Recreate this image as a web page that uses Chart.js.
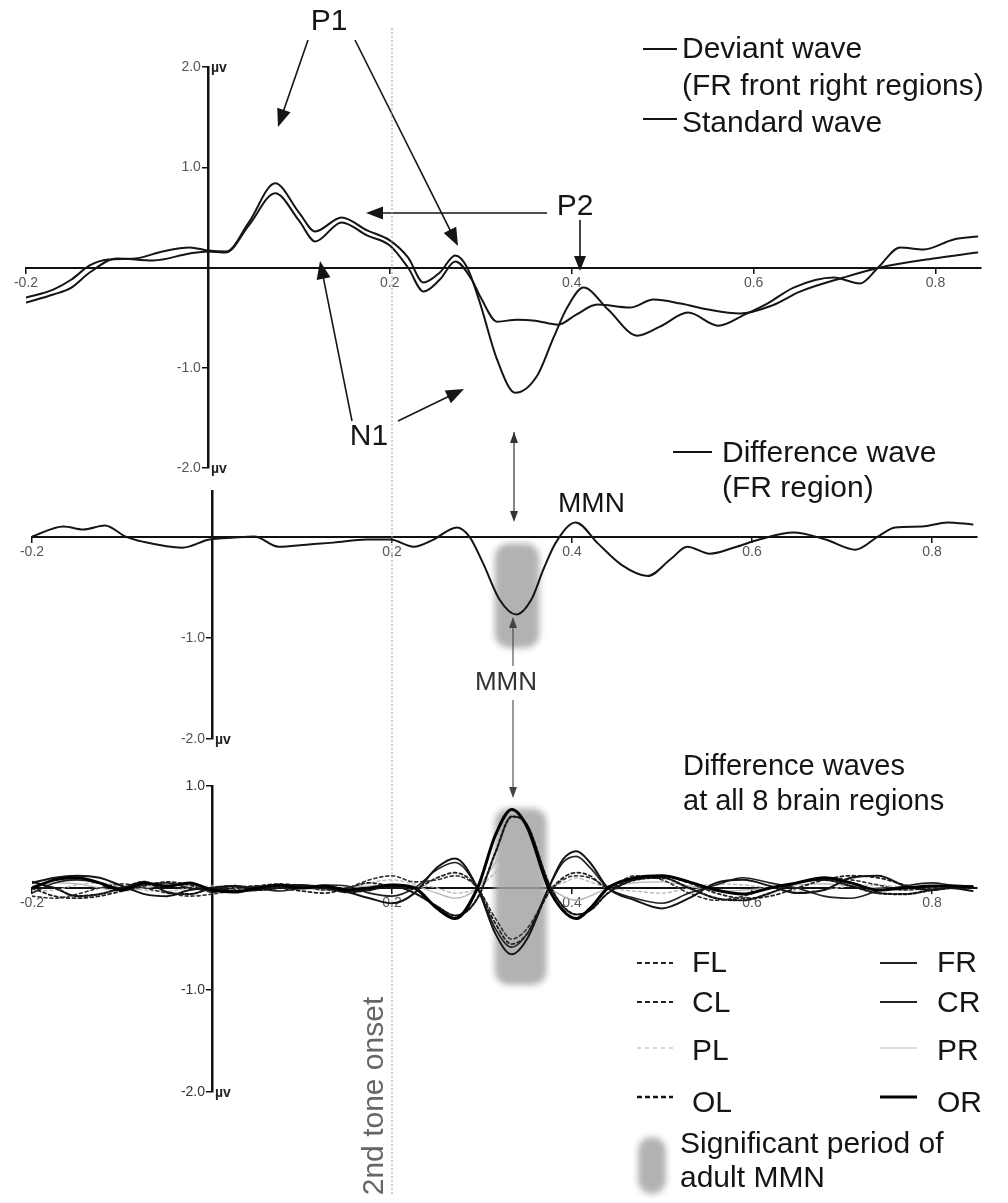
<!DOCTYPE html>
<html>
<head>
<meta charset="utf-8">
<script src="https://cdn.jsdelivr.net/npm/chart.js@4.4.1/dist/chart.umd.min.js"></script>
<style>
  html, body { margin: 0; padding: 0; background: #fff; }
  #wrap { position: relative; width: 1008px; height: 1203px; overflow: hidden; }
  #wrap canvas { position: absolute; left: 0; top: 0; }
</style>
</head>
<body>
<div id="wrap">
  <canvas id="waves" width="1008" height="1203"></canvas>
  <canvas id="diff" width="1008" height="1203"></canvas>
  <canvas id="regions" width="1008" height="1203"></canvas>
</div>
<script>
// ---- data (time in s, amplitude in µV) ----
const xTicks = [-0.2, 0.2, 0.4, 0.6, 0.8];
const yTicksTop = [2, 1, -1, -2];
const yTicksMid = [-1, -2];
const yTicksBot = [1, -1, -2];
const onsetTime = 0.2;
const mmnWindow = [0.312, 0.366];

const timeDev = [-0.2, -0.17, -0.15, -0.13, -0.11, -0.08, -0.05, -0.02, 0, 0.02,
  0.045, 0.074, 0.1, 0.118, 0.147, 0.175, 0.2, 0.22, 0.237, 0.255,
  0.272, 0.285, 0.299, 0.318, 0.338, 0.362, 0.38, 0.395, 0.413, 0.44,
  0.472, 0.497, 0.528, 0.561, 0.59, 0.615, 0.644, 0.688, 0.717, 0.737,
  0.761, 0.787, 0.82, 0.846];
const deviantWave = [-0.3, -0.22, -0.12, 0.02, 0.08, 0.09, 0.16, 0.2, 0.17, 0.16,
  0.45, 0.84, 0.55, 0.36, 0.5, 0.37, 0.27, 0.1, -0.15, -0.05,
  0.12, 0.0, -0.35, -0.92, -1.25, -1.08, -0.7, -0.4, -0.2, -0.42,
  -0.68, -0.59, -0.45, -0.58, -0.47, -0.36, -0.2, -0.1, -0.16, 0.0,
  0.2, 0.18, 0.28, 0.31];

const timeStd = [-0.2, -0.17, -0.15, -0.13, -0.1, -0.06, -0.02, 0, 0.02, 0.045,
  0.074, 0.1, 0.118, 0.147, 0.175, 0.2, 0.22, 0.237, 0.255, 0.272,
  0.29, 0.3, 0.318, 0.34, 0.36, 0.385, 0.405, 0.428, 0.464, 0.49,
  0.52, 0.55, 0.585, 0.62, 0.651, 0.699, 0.739, 0.798, 0.846];
const standardWave = [-0.35, -0.27, -0.2, -0.05, 0.09, 0.07, 0.14, 0.16, 0.15, 0.42,
  0.74, 0.47, 0.26, 0.45, 0.32, 0.22, 0.0, -0.24, -0.12, 0.06,
  -0.12, -0.3, -0.54, -0.52, -0.53, -0.57, -0.47, -0.37, -0.4, -0.32,
  -0.36, -0.42, -0.46, -0.38, -0.24, -0.1, 0.0, 0.09, 0.15];

const timeDiff = [-0.2, -0.165, -0.143, -0.119, -0.096, -0.077, -0.033, -0.003, 0.025, 0.047,
  0.074, 0.105, 0.135, 0.172, 0.198, 0.224, 0.246, 0.272, 0.286, 0.301,
  0.32, 0.338, 0.355, 0.368, 0.382, 0.404, 0.429, 0.455, 0.484, 0.51,
  0.528, 0.553, 0.583, 0.608, 0.646, 0.682, 0.715, 0.74, 0.759, 0.789,
  0.817, 0.845];
const diffWaveFR = [0, 0.1, 0.07, 0.11, 0, -0.05, -0.11, -0.03, -0.01, 0,
  -0.1, -0.08, -0.06, -0.03, -0.03, -0.1, -0.03, 0.09, 0, -0.26,
  -0.63, -0.77, -0.62, -0.33, -0.06, 0.14, -0.07, -0.28, -0.39, -0.22,
  -0.1, -0.17, -0.1, -0.03, 0.04, -0.03, -0.13, 0, 0.09, 0.1,
  0.14, 0.12];

const timeRegions = [-0.2, -0.175, -0.15, -0.125, -0.1, -0.075, -0.05, -0.025, 0, 0.025,
  0.05, 0.075, 0.1, 0.125, 0.15, 0.175, 0.2, 0.225, 0.25, 0.27,
  0.295, 0.315, 0.333, 0.35, 0.374, 0.39, 0.405, 0.42, 0.44, 0.47,
  0.5, 0.53, 0.56, 0.59, 0.62, 0.65, 0.68, 0.71, 0.74, 0.77,
  0.8, 0.82, 0.845];
const regionFR = [0.05, 0.1, 0.12, 0.1, 0.02, -0.06, -0.08, -0.02, 0, -0.03,
  -0.02, 0.02, 0.03, 0.0, -0.04, -0.1, -0.15, -0.05, 0.2, 0.29,
  0.0, -0.45, -0.65, -0.5, 0.0, 0.28, 0.36, 0.25, 0.0, -0.12,
  -0.2, -0.1, 0.05, 0.08, 0.02, -0.05, -0.02, 0.1, 0.12, 0.02,
  -0.02, 0.0, -0.03];
const regionCR = [-0.05, 0.05, 0.08, 0.05, 0.0, 0.03, 0.05, 0.0, -0.02, 0.02,
  0.0, -0.03, 0.0, 0.03, 0.02, -0.05, -0.08, 0.0, 0.18, 0.25,
  0.0, -0.4, -0.58, -0.45, 0.0, 0.25, 0.31, 0.2, 0.0, -0.1,
  -0.15, -0.05, 0.03, 0.1, 0.05, 0.0, -0.08, -0.1, -0.03, 0.02,
  0.05, 0.03, 0.02];
const regionFL = [0.0, -0.08, -0.1, -0.08, -0.03, 0.02, 0.06, 0.03, -0.04, 0.0,
  0.02, 0.0, -0.03, -0.05, 0.0, 0.05, 0.02, 0.0, 0.1, 0.15,
  0.0, -0.35, -0.55, -0.45, -0.05, 0.1, 0.15, 0.12, 0.0, 0.1,
  0.12, 0.05, -0.05, -0.1, -0.08, 0.0, 0.08, 0.12, 0.1, 0.03,
  -0.02, 0.0, 0.02];
const regionCL = [-0.08, -0.1, -0.06, 0.0, 0.04, 0.0, -0.05, -0.08, -0.06, -0.02,
  0.02, 0.04, 0.02, -0.02, 0.0, 0.08, 0.12, 0.06, 0.08, 0.12,
  0.0, -0.3, -0.5, -0.4, -0.05, 0.08, 0.12, 0.1, 0.02, 0.12,
  0.08, -0.05, -0.12, -0.08, 0.0, 0.05, 0.1, 0.08, 0.03, -0.02,
  0.0, 0.02, 0.0];
const regionOR = [0.0, 0.08, 0.1, 0.05, -0.02, 0.05, 0.02, 0.05, -0.02, -0.04,
  0.0, 0.03, 0.0, 0.02, -0.02, 0.0, 0.03, 0.0, -0.2, -0.3,
  0.0, 0.52, 0.77, 0.6, 0.0, -0.22, -0.3, -0.2, 0.0, 0.1,
  0.12, 0.06, -0.02, -0.06, 0.0, 0.05, 0.1, 0.05, -0.02, 0.0,
  0.02, 0.02, 0.01];
const regionOL = [0.06, 0.0, -0.08, -0.06, 0.0, 0.06, -0.04, -0.06, 0.0, 0.02,
  -0.02, 0.0, 0.02, 0.0, -0.04, -0.02, 0.02, -0.05, -0.18, -0.27,
  -0.1, 0.35, 0.7, 0.62, 0.05, -0.18, -0.26, -0.22, -0.05, 0.08,
  0.1, 0.0, -0.1, -0.12, -0.05, 0.05, 0.08, 0.02, -0.05, -0.06,
  -0.02, 0.0, 0.0];
const regionPR = [0.02, 0.05, 0.04, 0.0, -0.03, 0.0, 0.03, 0.02, 0.0, -0.02,
  0.0, 0.02, 0.0, -0.02, 0.0, 0.02, 0.04, 0.02, -0.05, -0.1,
  0.0, 0.25, 0.4, 0.32, 0.02, -0.08, -0.12, -0.08, 0.0, 0.05,
  0.06, 0.02, -0.03, -0.02, 0.0, 0.03, 0.04, 0.02, 0.0, -0.02,
  0.0, 0.01, 0.0];
const regionPL = [-0.03, -0.02, 0.03, 0.05, 0.02, -0.02, -0.03, 0.0, 0.02, 0.0,
  -0.02, 0.0, 0.03, 0.02, 0.0, 0.05, 0.08, 0.04, 0.0, -0.05,
  0.0, 0.15, 0.28, 0.22, 0.02, 0.05, 0.1, 0.06, 0.0, -0.03,
  -0.05, 0.0, 0.04, 0.03, 0.0, -0.03, -0.02, 0.02, 0.03, 0.0,
  -0.02, 0.0, 0.0];

// ---- helpers ----
const FONT = '"Liberation Sans", Arial, Helvetica, sans-serif';
const pts = (ts, vs) => ts.map((t, i) => ({ x: t, y: vs[i] }));

function text(ctx, str, x, y, size, o) {
  o = o || {};
  ctx.save();
  ctx.font = (o.weight || 'normal') + ' ' + size + 'px ' + FONT;
  ctx.fillStyle = o.color || '#151515';
  ctx.textAlign = o.align || 'left';
  ctx.textBaseline = o.baseline || 'alphabetic';
  if (o.rotate) {
    ctx.translate(x, y);
    ctx.rotate(o.rotate);
    ctx.fillText(str, 0, 0);
  } else {
    ctx.fillText(str, x, y);
  }
  ctx.restore();
}

function arrow(ctx, x1, y1, x2, y2, o) {
  o = o || {};
  const len = o.len || 15, half = o.half || 5.5;
  const a = Math.atan2(y2 - y1, x2 - x1), c = Math.cos(a), s = Math.sin(a);
  ctx.save();
  ctx.strokeStyle = ctx.fillStyle = o.color || '#151515';
  ctx.lineWidth = o.width || 1.6;
  ctx.beginPath();
  ctx.moveTo(x1, y1);
  ctx.lineTo(x2 - c * len * 0.7, y2 - s * len * 0.7);
  ctx.stroke();
  const head = (hx, hy, dc, ds) => {
    ctx.beginPath();
    ctx.moveTo(hx, hy);
    ctx.lineTo(hx - dc * len + half * ds, hy - ds * len - half * dc);
    ctx.lineTo(hx - dc * len - half * ds, hy - ds * len + half * dc);
    ctx.closePath();
    ctx.fill();
  };
  head(x2, y2, c, s);
  if (o.both) head(x1, y1, -c, -s);
  ctx.restore();
}

function dash(ctx, x1, x2, y, o) {
  ctx.save();
  ctx.strokeStyle = o.color || '#151515';
  ctx.lineWidth = o.width || 2;
  ctx.setLineDash(o.dash || []);
  ctx.beginPath(); ctx.moveTo(x1, y); ctx.lineTo(x2, y); ctx.stroke();
  ctx.restore();
}

function blob(ctx, x1, y1, x2, y2) {
  ctx.save();
  ctx.filter = 'blur(3px)';
  ctx.fillStyle = 'rgba(165,165,165,0.85)';
  ctx.beginPath();
  ctx.roundRect(x1 + 2, y1 + 2, x2 - x1 - 4, y2 - y1 - 4, Math.min(14, (x2 - x1) / 2));
  ctx.fill();
  ctx.restore();
}

function scaleSet(yMin, yMax, yTickVals, labelColor) {
  const tickFont = { family: FONT, size: 14 };
  return {
    x: {
      type: 'linear', min: -0.2, max: 0.85, position: { y: 0 },
      afterBuildTicks: axis => { axis.ticks = xTicks.map(v => ({ value: v })); },
      ticks: { color: '#555', font: tickFont, padding: 2, maxRotation: 0, autoSkip: false,
               callback: v => v.toFixed(1) },
      grid: { drawOnChartArea: false, color: '#111', tickLength: 5, lineWidth: 1.5 },
      border: { color: '#111', width: 2 }
    },
    y: {
      type: 'linear', min: yMin, max: yMax, position: { x: 0 },
      afterBuildTicks: axis => { axis.ticks = yTickVals.map(v => ({ value: v })); },
      // labels on a centred axis sit flush with it, so pad them with an en space
      ticks: { color: labelColor || '#555', font: tickFont, padding: 8,
               callback: v => v.toFixed(1) + '\u2002' },
      grid: { drawOnChartArea: false, color: '#111', tickLength: 5, lineWidth: 1.5 },
      border: { color: '#111', width: 2.5 }
    }
  };
}

function baseOptions(pad, scales) {
  return {
    responsive: false, animation: false, events: [],
    layout: { padding: pad },
    plugins: { legend: { display: false }, tooltip: { enabled: false } },
    scales: scales,
    elements: { point: { radius: 0 }, line: { cubicInterpolationMode: 'monotone', borderCapStyle: 'round' } }
  };
}

function unitLabel(chart, values) {
  const ctx = chart.ctx, x = chart.scales.x.getPixelForValue(0);
  values.forEach(v => {
    text(ctx, 'µv', x + 3, chart.scales.y.getPixelForValue(v) + 1, 14,
         { weight: 'bold', baseline: 'middle', color: '#222' });
  });
}

// ---- panel 1: deviant vs standard ----
const annotTop = {
  id: 'annotTop',
  afterDraw(chart) {
    const ctx = chart.ctx;
    unitLabel(chart, [2, -2]);
    text(ctx, 'P1', 329, 22, 30, { align: 'center', baseline: 'middle' });
    arrow(ctx, 308, 40, 278, 127, { len: 18, half: 7 });
    arrow(ctx, 355, 40, 458, 246, { len: 18, half: 7 });
    text(ctx, 'P2', 575, 207, 30, { align: 'center', baseline: 'middle' });
    arrow(ctx, 547, 213, 366, 213, { len: 17, half: 6.5 });
    arrow(ctx, 580, 220, 580, 271, { len: 15, half: 6 });
    text(ctx, 'N1', 369, 437, 30, { align: 'center', baseline: 'middle' });
    arrow(ctx, 352, 421, 320, 261, { len: 18, half: 7 });
    arrow(ctx, 398, 421, 464, 389, { len: 18, half: 7 });
    dash(ctx, 643, 677, 49, { width: 2 });
    text(ctx, 'Deviant wave', 682, 58, 30);
    text(ctx, '(FR front right regions)', 682, 95, 30);
    dash(ctx, 643, 677, 119, { width: 2 });
    text(ctx, 'Standard wave', 682, 132, 30);
  }
};

new Chart(document.getElementById('waves'), {
  type: 'line',
  data: {
    datasets: [
      { label: 'Deviant wave', data: pts(timeDev, deviantWave), borderColor: '#151515', borderWidth: 2 },
      { label: 'Standard wave', data: pts(timeStd, standardWave), borderColor: '#151515', borderWidth: 2 }
    ]
  },
  options: baseOptions({ left: 26, right: 27, top: 67, bottom: 735 }, scaleSet(-2, 2, yTicksTop)),
  plugins: [annotTop]
});

// ---- panel 2: FR difference wave ----
const annotMid = {
  id: 'annotMid',
  beforeDatasetsDraw(chart) {
    const ctx = chart.ctx, xs = chart.scales.x, ys = chart.scales.y;
    const xo = xs.getPixelForValue(onsetTime);
    ctx.save();
    ctx.strokeStyle = '#a0a0a0'; ctx.lineWidth = 1; ctx.setLineDash([2, 2]);
    ctx.beginPath(); ctx.moveTo(xo, 28); ctx.lineTo(xo, 1196); ctx.stroke();
    ctx.restore();
    blob(ctx, xs.getPixelForValue(mmnWindow[0]), ys.getPixelForValue(-0.05),
         xs.getPixelForValue(mmnWindow[1]), ys.getPixelForValue(-1.12));
  },
  afterDraw(chart) {
    const ctx = chart.ctx;
    unitLabel(chart, [-2]);
    arrow(ctx, 514, 432, 514, 522, { both: true, len: 11, half: 4, width: 1.2, color: '#333' });
    text(ctx, 'MMN', 558, 512, 28);
    dash(ctx, 673, 712, 452, { width: 2 });
    text(ctx, 'Difference wave', 722, 462, 30);
    text(ctx, '(FR region)', 722, 497, 30);
    text(ctx, 'MMN', 506, 683, 26, { align: 'center', baseline: 'middle', color: '#333' });
    arrow(ctx, 513, 666, 513, 617, { len: 11, half: 4, width: 1.1, color: '#444' });
    arrow(ctx, 513, 700, 513, 798, { len: 11, half: 4, width: 1.1, color: '#444' });
  }
};

new Chart(document.getElementById('diff'), {
  type: 'line',
  data: {
    datasets: [
      { label: 'Difference wave (FR region)', data: pts(timeDiff, diffWaveFR), borderColor: '#151515', borderWidth: 2 }
    ]
  },
  options: baseOptions({ left: 32, right: 31, top: 491, bottom: 464 }, scaleSet(-2, 0.45, yTicksMid)),
  plugins: [annotMid]
});

// ---- panel 3: difference waves at all 8 regions ----
const annotBot = {
  id: 'annotBot',
  beforeDatasetsDraw(chart) {
    const ctx = chart.ctx, xs = chart.scales.x, ys = chart.scales.y;
    blob(ctx, xs.getPixelForValue(mmnWindow[0]), ys.getPixelForValue(0.8),
         xs.getPixelForValue(mmnWindow[1] + 0.008), ys.getPixelForValue(-0.97));
  },
  afterDraw(chart) {
    const ctx = chart.ctx;
    unitLabel(chart, [-2]);
    text(ctx, 'Difference waves', 683, 775, 29);
    text(ctx, 'at all 8 brain regions', 683, 810, 29);
    const rows = [
      ['FL', 'FR', 972, 963, { dash: [5, 3], color: '#222' }, { color: '#222', width: 2 }],
      ['CL', 'CR', 1012, 1002, { dash: [5, 3], color: '#222' }, { color: '#222', width: 2.2 }],
      ['PL', 'PR', 1060, 1048, { dash: [4, 4], color: '#bbb', width: 1.2 }, { color: '#bbb', width: 1.2 }],
      ['OL', 'OR', 1112, 1097, { dash: [5, 3], color: '#111', width: 2.5 }, { color: '#000', width: 3.2 }]
    ];
    rows.forEach(r => {
      dash(ctx, 637, 673, r[3], r[4]);
      text(ctx, r[0], 692, r[2], 30);
      dash(ctx, 880, 917, r[3], r[5]);
      text(ctx, r[1], 937, r[2], 30);
    });
    blob(ctx, 636, 1135, 668, 1196);
    text(ctx, 'Significant period of', 680, 1153, 30);
    text(ctx, 'adult MMN', 680, 1187, 30);
    text(ctx, '2nd tone onset', 383, 1096, 30, { align: 'center', rotate: -Math.PI / 2, color: '#666' });
  }
};

new Chart(document.getElementById('regions'), {
  type: 'line',
  data: {
    datasets: [
      { label: 'OR', data: pts(timeRegions, regionOR), borderColor: '#000', borderWidth: 3 },
      { label: 'FR', data: pts(timeRegions, regionFR), borderColor: '#151515', borderWidth: 2 },
      { label: 'OL', data: pts(timeRegions, regionOL), borderColor: '#151515', borderWidth: 2.2, borderDash: [3, 2] },
      { label: 'CR', data: pts(timeRegions, regionCR), borderColor: '#222', borderWidth: 1.6 },
      { label: 'FL', data: pts(timeRegions, regionFL), borderColor: '#222', borderWidth: 1.8, borderDash: [3, 3] },
      { label: 'CL', data: pts(timeRegions, regionCL), borderColor: '#333', borderWidth: 1.6, borderDash: [3, 3] },
      { label: 'PR', data: pts(timeRegions, regionPR), borderColor: '#b5b5b5', borderWidth: 1.3 },
      { label: 'PL', data: pts(timeRegions, regionPL), borderColor: '#b5b5b5', borderWidth: 1.3, borderDash: [3, 3] }
    ]
  },
  options: baseOptions({ left: 32, right: 31, top: 786, bottom: 111 }, scaleSet(-2, 1, yTicksBot, '#333')),
  plugins: [annotBot]
});
</script>
</body>
</html>
